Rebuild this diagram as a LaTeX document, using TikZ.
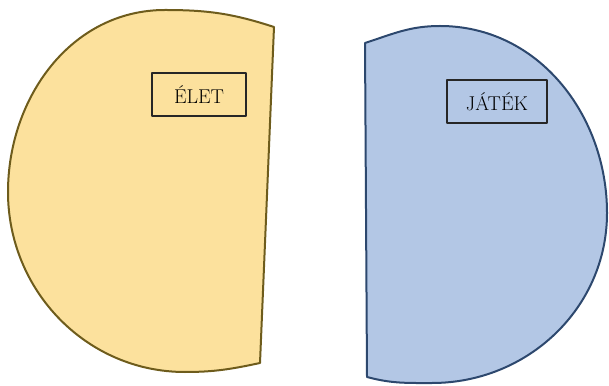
\documentclass[tikz,border=0pt]{standalone}
\usepackage{fontspec}
\usepackage{tikz}

\begin{document}
\begin{tikzpicture}[x=0.75pt, y=0.75pt, line join=round,
  life/.style={draw=lifeline, fill=lifefill, line width=1.5pt},
  game/.style={draw=gameline, fill=gamefill, line width=1.5pt},
  lab/.style={draw=black!85, line width=1.3pt, fill=none, inner sep=0pt, minimum height=32pt,
    font=\fontsize{15}{17}\selectfont\addfontfeature{LetterSpace=10}}]
\definecolor{lifefill}{RGB}{252,225,157}
\definecolor{lifeline}{RGB}{110,92,28}
\definecolor{gamefill}{RGB}{179,199,229}
\definecolor{gameline}{RGB}{45,72,110}
\useasboundingbox (0,0) rectangle (609,385);
\coordinate (la) at (274,358);
\coordinate (lt) at (165,375);
\coordinate (ll) at (8,193);
\coordinate (lb) at (185,13);
\coordinate (lc) at (260,22);
\coordinate (gp) at (365,342);
\coordinate (gq) at (440,359);
\coordinate (gr) at (607,172);
\coordinate (gs) at (432,2);
\coordinate (gu) at (367,8);
\draw[life] (la) to[out=162, in=0] (lt) to[out=180, in=90] (ll)
  to[out=270, in=180] (lb) to[out=0, in=192] (lc) -- cycle;
\draw[game] (gp) to[out=18, in=180] (gq) to[out=0, in=90] (gr)
  to[out=270, in=0] (gs) to[out=180, in=-15] (gu) -- cycle;
\node[lab, minimum width=70pt] (elet) at (199,290.5) {ÉLET};
\node[lab, minimum width=75pt] (jatek) at (497,283.5) {JÁTÉK};
\end{tikzpicture}
\end{document}
